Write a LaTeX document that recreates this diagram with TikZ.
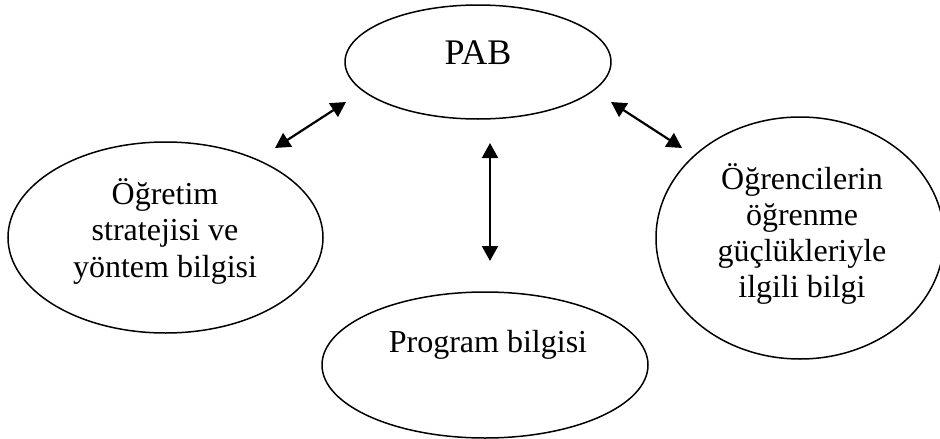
\documentclass[tikz,border=0pt]{standalone}
\usepackage{fontspec}
\setmainfont{Liberation Serif}
\usetikzlibrary{arrows.meta,shapes.geometric}
\begin{document}
\begin{tikzpicture}[x=1pt,y=-1pt,
  bubble/.style={draw=black,line width=1.5pt,ellipse,inner sep=0pt},
  caption/.style={align=center,inner sep=0pt,font=\fontsize{32}{36.5}\selectfont},
  link/.style={line width=2.2pt,{Triangle[length=15pt,width=16pt]}-{Triangle[length=15pt,width=16pt]}}]
\useasboundingbox (0,0) rectangle (940,439);

% four knowledge components
\node[bubble,minimum width=266pt,minimum height=114pt] (pab) at (478,62) {};
\node[bubble,minimum width=315pt,minimum height=191pt] (strat) at (165.5,237.5) {};
\node[bubble,minimum width=326pt,minimum height=146pt] (prog) at (485,365) {};
\node[bubble,minimum width=288pt,minimum height=242pt] (ogr) at (800,238) {};

% captions
\node[caption,font=\fontsize{36}{40}\selectfont] (pabtext) at (478,53) {PAB};
\node[caption] (strattext) at (165,231) {Öğretim\\stratejisi ve\\yöntem bilgisi};
\node[caption] (progtext) at (488,344.5) {Program bilgisi};
\node[caption,font=\fontsize{32}{36}\selectfont] (ogrtext) at (802,234) {Öğrencilerin\\öğrenme\\güçlükleriyle\\ilgili bilgi};

% two-way links between PAB and its components
\coordinate (l1) at (275,148);
\coordinate (l2) at (346,102);
\coordinate (m1) at (490,143);
\coordinate (m2) at (490,261);
\coordinate (r1) at (611,102);
\coordinate (r2) at (682,148);
\draw[link] (l1) -- (l2);
\draw[link] (m1) -- (m2);
\draw[link] (r1) -- (r2);
\end{tikzpicture}
\end{document}
